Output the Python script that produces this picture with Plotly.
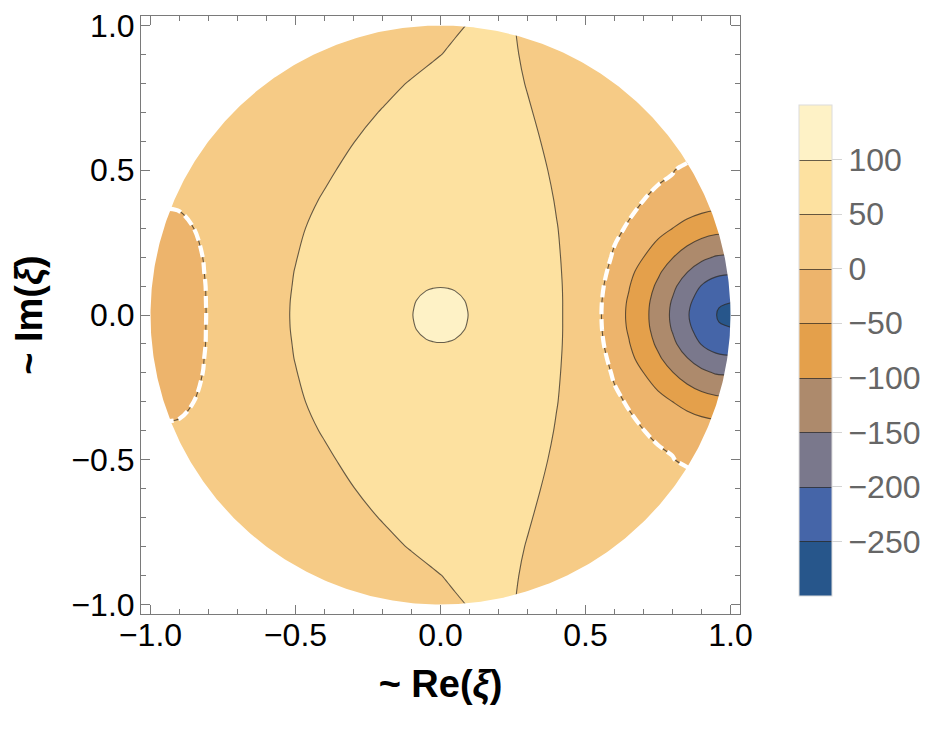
import numpy as np
import plotly.graph_objects as go

# ---------------- data ----------------
# grid of Re(xi) (columns) and Im(xi) (rows)
re_xi = [-1.02, -0.95, -0.9, -0.85, -0.8, -0.7, -0.6, -0.5, -0.4, -0.3, -0.2, -0.1, -0.05, -0.025, 0.0,
         0.025, 0.05, 0.1, 0.2, 0.3, 0.4, 0.5, 0.55, 0.6, 0.65, 0.7, 0.75, 0.8, 0.85, 0.9, 0.95, 1.02]
im_xi = [-1.02, -0.9, -0.8, -0.7, -0.6, -0.5, -0.4, -0.3, -0.2, -0.15, -0.1, -0.05, -0.025, 0.0,
         0.025, 0.05, 0.1, 0.15, 0.2, 0.3, 0.4, 0.5, 0.6, 0.7, 0.8, 0.9, 1.02]

# estimated field values on that grid (one row per Im value, bottom to top)
field = [
    [5, 5, 5, 5, 5, 5, 5, 5, 10.9, 16.9, 22.9, 28.9, 31.9, 33.4, 34.9, 38.5, 42.2, 49.7, 58.3, 43.3, 32.3, 26.3, 23.3, 20.3, 17.3, 14.3, 11.3, 8.3, 5.3, 5, 5, 5],
    [5, 5, 5, 5, 5, 5, 5, 10.7, 16.7, 22.7, 28.7, 34.7, 41.8, 45.5, 49.3, 53, 56.8, 64.3, 60.5, 45.5, 33.2, 27.2, 24.2, 21.2, 18.2, 15.2, 12.2, 9.2, 6.2, 5, 5, 5],
    [5, 5, 5, 5, 5, 6.2, 12.2, 18.2, 24.2, 30.2, 38, 53, 60.5, 64.3, 68, 71.8, 75.5, 78.5, 63.5, 48.5, 34.4, 28.4, 25.4, 22.4, 19.4, 16.4, 13.4, 10.4, 7.4, 5, 5, 5],
    [5, 5, 5, 5, 5.9, 11.9, 17.9, 23.9, 29.9, 37.3, 52.3, 67.3, 74.8, 78.5, 82.3, 85, 85, 82.7, 67.7, 52.7, 37.7, 30.1, 27.1, 24.1, 21.1, 18.1, 15.1, 12, 10, 8, 6, 5],
    [5, 5, 5, 7.7, 10.7, 16.7, 22.7, 28.7, 34.7, 49.3, 64.3, 79.3, 85, 85, 85, 85, 85, 85, 71.8, 56.8, 41.8, 31.7, 28.7, 25.7, 22.7, 19.7, 16.7, 13.7, 15, 5, 5, 5],
    [5, 5, 8.6, 11.6, 14.6, 20.6, 26.6, 32.6, 44, 59, 74, 85, 85, 85, 85, 85, 85, 85, 75.5, 60.5, 45.5, 33.2, 30.2, 27.2, 24.2, 21.2, 5.2, 1.0, -5, -5, -5, -5],
    [10, 12, 18, 15.2, 18.2, 24.2, 30.2, 38, 53, 68, 83, 85, 85, 85, 85, 85, 85, 85, 78.5, 63.5, 48.5, 34.4, 31.4, 28.4, 12.9, 0.5, -5, -6.4, -16.4, -23.8, -28.4, -29.8],
    [-25, -25, -25, 0.5, 20.9, 26.9, 32.9, 44.8, 59.8, 74.8, 85, 85, 85, 85, 85, 85, 85, 85, 80.8, 65.8, 50.8, 35.8, 32.3, 9.7, -5, -17.9, -34.8, -49.7, -65.4, -77.4, -84.9, -87.1],
    [-25, -25, -25, -25, 16.7, 28.6, 34.6, 49, 64, 79, 85, 85, 85, 85, 85, 85, 85, 85, 82.1, 67.1, 52.1, 37.1, 20.3, -6.4, -28.4, -49.7, -74.9, -98.2, -121.4, -140.3, -152.9, -156.9],
    [-25, -25, -25, -25, 10.7, 29.3, 35.8, 50.8, 65.8, 80.8, 85, 86, 87, 87.5, 88, 87.5, 87, 86, 82.6, 67.6, 52.6, 37.6, 15.1, -16.4, -39.6, -65.4, -92.8, -121.4, -148.5, -172.9, -189.9, -195.2],
    [-25, -25, -25, -25, 6.3, 29.7, 36.8, 51.8, 66.8, 81.8, 85, 90, 95, 97, 98, 97, 95, 90, 83, 68, 53, 38, 8.4, -23.8, -48.0, -77.4, -107.7, -140.3, -172.9, -201.9, -217.5, -222.6],
    [-25, -25, -25, -25, 5.5, 30.1, 37.7, 52.7, 67.7, 82.7, 85, 95, 110, 116.5, 119, 116.5, 110, 95, 83, 68.2, 53.2, 38.2, 4.6, -28.4, -54.0, -84.9, -117.9, -152.9, -189.9, -217.5, -239.1, -248],
    [-25, -25, -25, -25, 5.1, 30.1, 37.9, 52.9, 67.9, 82.9, 85, 96.7, 116.5, 125.1, 129.5, 125.1, 116.5, 96.7, 83, 68.2, 53.2, 38.2, 3.7, -29.6, -55.7, -86.9, -120.6, -156.5, -194.5, -222.1, -246.9, -268],
    [-25, -25, -25, -25, 4.8, 30.2, 38, 53, 68, 83, 85, 98, 119, 129.5, 140, 129.5, 119, 98, 83, 68.2, 53.2, 38.2, 3.3, -30, -56.3, -87.5, -121.4, -157.7, -196.2, -223.7, -249, -280],
    [-25, -25, -25, -25, 5.1, 30.1, 37.9, 52.9, 67.9, 82.9, 85, 96.7, 116.5, 125.1, 129.5, 125.1, 116.5, 96.7, 83, 68.2, 53.2, 38.2, 3.7, -29.6, -55.7, -86.9, -120.6, -156.5, -194.5, -222.1, -246.9, -268],
    [-25, -25, -25, -25, 5.5, 30.1, 37.7, 52.7, 67.7, 82.7, 85, 95, 110, 116.5, 119, 116.5, 110, 95, 83, 68.2, 53.2, 38.2, 4.6, -28.4, -54.0, -84.9, -117.9, -152.9, -189.9, -217.5, -239.1, -248],
    [-25, -25, -25, -25, 6.3, 29.7, 36.8, 51.8, 66.8, 81.8, 85, 90, 95, 97, 98, 97, 95, 90, 83, 68, 53, 38, 8.4, -23.8, -48.0, -77.4, -107.7, -140.3, -172.9, -201.9, -217.5, -222.6],
    [-25, -25, -25, -25, 10.7, 29.3, 35.8, 50.8, 65.8, 80.8, 85, 86, 87, 87.5, 88, 87.5, 87, 86, 82.6, 67.6, 52.6, 37.6, 15.1, -16.4, -39.6, -65.4, -92.8, -121.4, -148.5, -172.9, -189.9, -195.2],
    [-25, -25, -25, -25, 16.7, 28.6, 34.6, 49, 64, 79, 85, 85, 85, 85, 85, 85, 85, 85, 82.1, 67.1, 52.1, 37.1, 20.3, -6.4, -28.4, -49.7, -74.9, -98.2, -121.4, -140.3, -152.9, -156.9],
    [-25, -25, -25, 0.5, 20.9, 26.9, 32.9, 44.8, 59.8, 74.8, 85, 85, 85, 85, 85, 85, 85, 85, 80.8, 65.8, 50.8, 35.8, 32.3, 9.7, -5, -17.9, -34.8, -49.7, -65.4, -77.4, -84.9, -87.1],
    [10, 12, 18, 15.2, 18.2, 24.2, 30.2, 38, 53, 68, 83, 85, 85, 85, 85, 85, 85, 85, 78.5, 63.5, 48.5, 34.4, 31.4, 28.4, 12.9, 0.5, -5, -6.4, -16.4, -23.8, -28.4, -29.8],
    [5, 5, 8.6, 11.6, 14.6, 20.6, 26.6, 32.6, 44, 59, 74, 85, 85, 85, 85, 85, 85, 85, 75.5, 60.5, 45.5, 33.2, 30.2, 27.2, 24.2, 21.2, 5.2, 1.0, -5, -5, -5, -5],
    [5, 5, 5, 7.7, 10.7, 16.7, 22.7, 28.7, 34.7, 49.3, 64.3, 79.3, 85, 85, 85, 85, 85, 85, 71.8, 56.8, 41.8, 31.7, 28.7, 25.7, 22.7, 19.7, 16.7, 13.7, 15, 5, 5, 5],
    [5, 5, 5, 5, 5.9, 11.9, 17.9, 23.9, 29.9, 37.3, 52.3, 67.3, 74.8, 78.5, 82.3, 85, 85, 82.7, 67.7, 52.7, 37.7, 30.1, 27.1, 24.1, 21.1, 18.1, 15.1, 12, 10, 8, 6, 5],
    [5, 5, 5, 5, 5, 6.2, 12.2, 18.2, 24.2, 30.2, 38, 53, 60.5, 64.3, 68, 71.8, 75.5, 78.5, 63.5, 48.5, 34.4, 28.4, 25.4, 22.4, 19.4, 16.4, 13.4, 10.4, 7.4, 5, 5, 5],
    [5, 5, 5, 5, 5, 5, 5, 10.7, 16.7, 22.7, 28.7, 34.7, 41.8, 45.5, 49.3, 53, 56.8, 64.3, 60.5, 45.5, 33.2, 27.2, 24.2, 21.2, 18.2, 15.2, 12.2, 9.2, 6.2, 5, 5, 5],
    [5, 5, 5, 5, 5, 5, 5, 5, 10.9, 16.9, 22.9, 28.9, 31.9, 33.4, 34.9, 38.5, 42.2, 49.7, 58.3, 43.3, 32.3, 26.3, 23.3, 20.3, 17.3, 14.3, 11.3, 8.3, 5.3, 5, 5, 5],
]

contour_start = -250
contour_end = 100
contour_step = 50
legend_min = -300
legend_max = 150

band_colors = ["#27568b", "#4565a8", "#7a788c", "#ad8a6c", "#e4a04b",
               "#edb46c", "#f6cb86", "#fde1a0", "#fef2c6"]
legend_ticks = [-250, -200, -150, -100, -50, 0, 50, 100]
legend_text = ["\u2212250", "\u2212200", "\u2212150", "\u2212100", "\u221250", "0", "50", "100"]
axis_ticks = [-1.0, -0.5, 0.0, 0.5, 1.0]
axis_text = ["\u22121.0", "\u22120.5", "0.0", "0.5", "1.0"]

# ---------------- figure ----------------
FONT = "Liberation Sans, Arial, sans-serif"
n = len(band_colors) - 1
colorscale = [[i / n, c] for i, c in enumerate(band_colors)]

fig = go.Figure()

fig.add_trace(go.Contour(
    x=re_xi, y=im_xi, z=field,
    autocontour=False,
    contours=dict(start=contour_start, end=contour_end, size=contour_step,
                  coloring="fill", showlines=True),
    line=dict(color="rgba(45,40,35,0.72)", width=1.1, smoothing=1.0),
    colorscale=colorscale, zmin=legend_min, zmax=legend_max,
    hoverinfo="skip",
    colorbar=dict(
        thickness=33, thicknessmode="pixels",
        len=491, lenmode="pixels",
        x=1.098, xanchor="left", xpad=0,
        y=0.4406, yanchor="middle", ypad=0,
        tickmode="array", tickvals=legend_ticks, ticktext=legend_text,
        ticks="outside", ticklen=10, tickcolor="#d4d4d4", tickwidth=1,
        tickfont=dict(family=FONT, size=32, color="#666666"),
        outlinewidth=1, outlinecolor="#dcdcdc",
    ),
))

# exclusion boundaries (jumps through zero) drawn as white dashes
fig.add_trace(go.Contour(
    x=re_xi, y=im_xi, z=field,
    autocontour=False,
    contours=dict(start=0, end=0, size=1, coloring="none", showlines=True),
    line=dict(color="white", width=4.2, dash="12px,5px", smoothing=1.0),
    showscale=False, hoverinfo="skip",
))

# white mask outside the unit disk (the domain |xi| <= 1)
t = np.linspace(0.0, -2.0 * np.pi, 721)
mask_x = [1.3, 1.3, -1.3, -1.3, 1.3, 1.3] + list(np.cos(t)) + [1.3]
mask_y = [0.0, 1.3, 1.3, -1.3, -1.3, 0.0] + list(np.sin(t)) + [0.0]
fig.add_trace(go.Scatter(
    x=mask_x, y=mask_y, mode="lines", fill="toself",
    fillcolor="white", line=dict(width=0, color="white"),
    hoverinfo="skip", showlegend=False,
))

axis_common = dict(
    range=[-1.0328, 1.0328],
    automargin=False,
    tickmode="array", tickvals=axis_ticks, ticktext=axis_text,
    ticks="inside", ticklen=9, tickwidth=1, tickcolor="#7a7a7a",
    minor=dict(dtick=0.1, tick0=0, ticks="inside", ticklen=5,
               tickcolor="#7a7a7a", tickwidth=1, showgrid=False),
    showline=True, linecolor="#7a7a7a", linewidth=1, mirror="ticks",
    showgrid=False, zeroline=False,
    ticklabeloverflow="allow",
    tickfont=dict(family=FONT, size=32, color="black"),
)

# the page body adds an 8 px offset, so the figure is sized to fit the window
fig.update_layout(
    width=933, height=727,
    margin=dict(l=133, r=201, t=8, b=121),
    paper_bgcolor="white", plot_bgcolor="white",
    showlegend=False,
    xaxis=dict(axis_common, ticklabelstandoff=-7,
               title=dict(text="<b>~ Re(<i>\u03be</i>)</b>",
                          font=dict(family=FONT, size=38, color="black"),
                          standoff=17)),
    yaxis=dict(axis_common, ticklabelstandoff=-1,
               title=dict(text="<b>~ Im(<i>\u03be</i>)</b>",
                          font=dict(family=FONT, size=38, color="black"),
                          standoff=25)),
)

fig.write_html("out.html")
